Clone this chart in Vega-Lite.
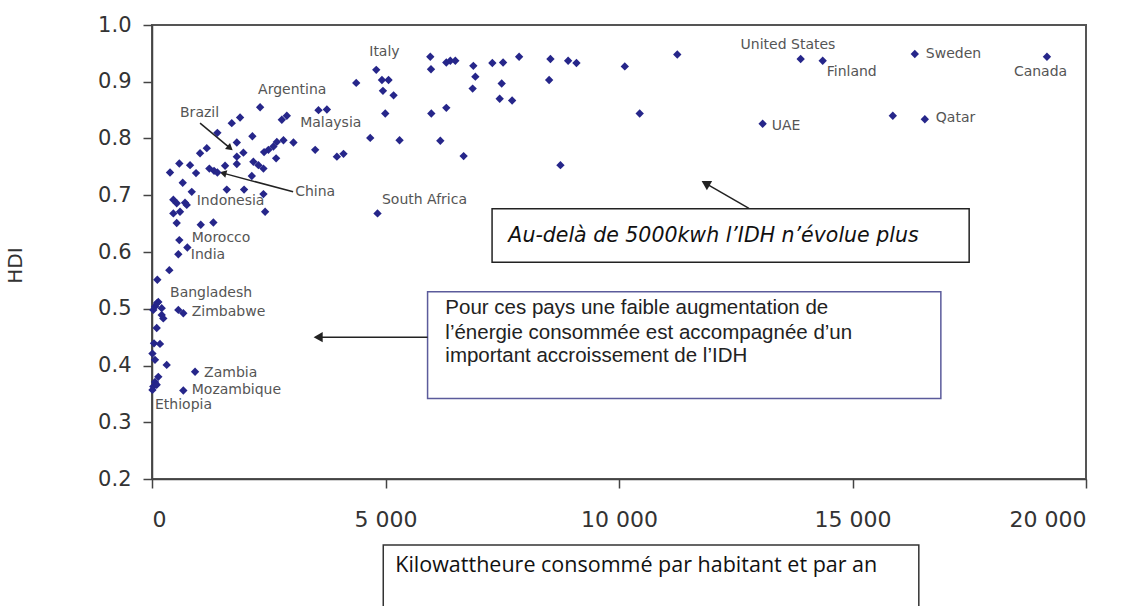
{
  "$schema": "https://vega.github.io/schema/vega-lite/v6.json",
  "autosize": {"type": "none"},
  "padding": {"left": 152, "top": 25, "right": 61, "bottom": 127},
  "width": 934,
  "height": 454,
  "background": "white",
  "config": {
    "view": {"stroke": "#555555", "strokeWidth": 2},
    "axis": {"grid": false}
  },
  "datasets": {
    "pts": [
      {"kwh": 13890, "hdi": 0.940}, {"kwh": 14362, "hdi": 0.937}, {"kwh": 16334, "hdi": 0.949}, {"kwh": 19164, "hdi": 0.944},
      {"kwh": 13076, "hdi": 0.826}, {"kwh": 15863, "hdi": 0.840}, {"kwh": 16549, "hdi": 0.834},
      {"kwh": 5959, "hdi": 0.944}, {"kwh": 4802, "hdi": 0.921}, {"kwh": 6302, "hdi": 0.934}, {"kwh": 6388, "hdi": 0.937},
      {"kwh": 6495, "hdi": 0.937}, {"kwh": 5974, "hdi": 0.922}, {"kwh": 6881, "hdi": 0.928}, {"kwh": 7288, "hdi": 0.933},
      {"kwh": 7518, "hdi": 0.934}, {"kwh": 7861, "hdi": 0.944}, {"kwh": 8532, "hdi": 0.940}, {"kwh": 8911, "hdi": 0.937},
      {"kwh": 9089, "hdi": 0.933}, {"kwh": 10124, "hdi": 0.927}, {"kwh": 11248, "hdi": 0.948}, {"kwh": 4924, "hdi": 0.903},
      {"kwh": 5065, "hdi": 0.903}, {"kwh": 6924, "hdi": 0.909}, {"kwh": 7488, "hdi": 0.897}, {"kwh": 8504, "hdi": 0.903},
      {"kwh": 4945, "hdi": 0.884}, {"kwh": 5173, "hdi": 0.876}, {"kwh": 6866, "hdi": 0.888}, {"kwh": 7445, "hdi": 0.870},
      {"kwh": 7711, "hdi": 0.867}, {"kwh": 4995, "hdi": 0.844}, {"kwh": 5981, "hdi": 0.844}, {"kwh": 6302, "hdi": 0.854},
      {"kwh": 10443, "hdi": 0.844}, {"kwh": 4373, "hdi": 0.898}, {"kwh": 4673, "hdi": 0.801}, {"kwh": 5301, "hdi": 0.797},
      {"kwh": 6174, "hdi": 0.796}, {"kwh": 6673, "hdi": 0.769}, {"kwh": 8746, "hdi": 0.753}, {"kwh": 4829, "hdi": 0.668},
      {"kwh": 2315, "hdi": 0.855}, {"kwh": 3565, "hdi": 0.850}, {"kwh": 3745, "hdi": 0.851}, {"kwh": 1886, "hdi": 0.837},
      {"kwh": 1708, "hdi": 0.827}, {"kwh": 2887, "hdi": 0.840}, {"kwh": 2780, "hdi": 0.833}, {"kwh": 1400, "hdi": 0.810},
      {"kwh": 2150, "hdi": 0.804}, {"kwh": 1816, "hdi": 0.793}, {"kwh": 1173, "hdi": 0.783}, {"kwh": 1029, "hdi": 0.774},
      {"kwh": 2673, "hdi": 0.794}, {"kwh": 2815, "hdi": 0.797}, {"kwh": 3029, "hdi": 0.793}, {"kwh": 2600, "hdi": 0.786},
      {"kwh": 2493, "hdi": 0.780}, {"kwh": 2400, "hdi": 0.776}, {"kwh": 3494, "hdi": 0.780}, {"kwh": 3959, "hdi": 0.768},
      {"kwh": 4101, "hdi": 0.773}, {"kwh": 1957, "hdi": 0.775}, {"kwh": 1816, "hdi": 0.768}, {"kwh": 2658, "hdi": 0.765},
      {"kwh": 585, "hdi": 0.756}, {"kwh": 815, "hdi": 0.753}, {"kwh": 386, "hdi": 0.740}, {"kwh": 943, "hdi": 0.739},
      {"kwh": 1228, "hdi": 0.747}, {"kwh": 1329, "hdi": 0.743}, {"kwh": 1400, "hdi": 0.740}, {"kwh": 1565, "hdi": 0.752},
      {"kwh": 1816, "hdi": 0.755}, {"kwh": 2171, "hdi": 0.759}, {"kwh": 2279, "hdi": 0.753}, {"kwh": 2386, "hdi": 0.747},
      {"kwh": 2137, "hdi": 0.734}, {"kwh": 658, "hdi": 0.722}, {"kwh": 1601, "hdi": 0.710}, {"kwh": 1972, "hdi": 0.710},
      {"kwh": 851, "hdi": 0.706}, {"kwh": 2386, "hdi": 0.702}, {"kwh": 457, "hdi": 0.692}, {"kwh": 529, "hdi": 0.686},
      {"kwh": 707, "hdi": 0.687}, {"kwh": 744, "hdi": 0.683}, {"kwh": 457, "hdi": 0.668}, {"kwh": 600, "hdi": 0.671},
      {"kwh": 2422, "hdi": 0.671}, {"kwh": 529, "hdi": 0.651}, {"kwh": 1044, "hdi": 0.648}, {"kwh": 1314, "hdi": 0.652},
      {"kwh": 585, "hdi": 0.621}, {"kwh": 757, "hdi": 0.608}, {"kwh": 564, "hdi": 0.596}, {"kwh": 371, "hdi": 0.568},
      {"kwh": 114, "hdi": 0.551}, {"kwh": 135, "hdi": 0.512}, {"kwh": 64, "hdi": 0.504}, {"kwh": 208, "hdi": 0.501},
      {"kwh": 208, "hdi": 0.489}, {"kwh": 242, "hdi": 0.483}, {"kwh": 28, "hdi": 0.498}, {"kwh": 107, "hdi": 0.510},
      {"kwh": 564, "hdi": 0.498}, {"kwh": 671, "hdi": 0.492}, {"kwh": 101, "hdi": 0.466}, {"kwh": 43, "hdi": 0.439},
      {"kwh": 171, "hdi": 0.438}, {"kwh": 10, "hdi": 0.421}, {"kwh": 64, "hdi": 0.410}, {"kwh": 315, "hdi": 0.401},
      {"kwh": 922, "hdi": 0.389}, {"kwh": 135, "hdi": 0.380}, {"kwh": 64, "hdi": 0.371}, {"kwh": 28, "hdi": 0.363},
      {"kwh": 101, "hdi": 0.366}, {"kwh": 671, "hdi": 0.356}, {"kwh": 10, "hdi": 0.357}
    ],
    "labels": [
      {"name": "Italy", "kwh": 4652, "hdi": 0.952},
      {"name": "Argentina", "kwh": 2272, "hdi": 0.885},
      {"name": "Brazil", "kwh": 600, "hdi": 0.845},
      {"name": "Malaysia", "kwh": 3173, "hdi": 0.828},
      {"name": "China", "kwh": 3065, "hdi": 0.706},
      {"name": "Indonesia", "kwh": 958, "hdi": 0.689},
      {"name": "South Africa", "kwh": 4924, "hdi": 0.692},
      {"name": "Morocco", "kwh": 851, "hdi": 0.625},
      {"name": "India", "kwh": 830, "hdi": 0.595},
      {"name": "Bangladesh", "kwh": 386, "hdi": 0.527},
      {"name": "Zimbabwe", "kwh": 851, "hdi": 0.494},
      {"name": "Zambia", "kwh": 1115, "hdi": 0.387},
      {"name": "Mozambique", "kwh": 851, "hdi": 0.356},
      {"name": "Ethiopia", "kwh": 64, "hdi": 0.330},
      {"name": "United States", "kwh": 12604, "hdi": 0.965},
      {"name": "Finland", "kwh": 14448, "hdi": 0.917},
      {"name": "Sweden", "kwh": 16570, "hdi": 0.949},
      {"name": "Canada", "kwh": 18456, "hdi": 0.917},
      {"name": "UAE", "kwh": 13269, "hdi": 0.822},
      {"name": "Qatar", "kwh": 16784, "hdi": 0.836}
    ]
  },
  "layer": [
    {
      "data": {"values": [
        {"x1": 7282, "x2": 17498, "y1": 0.676, "y2": 0.582}
      ]},
      "mark": {"type": "rect", "fill": "white", "stroke": "#222222", "strokeWidth": 1.5},
      "encoding": {
        "x": {"field": "x1", "type": "quantitative", "scale": {"domain": [0, 20000], "nice": false},
          "axis": {"values": [0, 5000, 10000, 15000, 20000], "labelExpr": "replace(format(datum.value, ','), ',', ' ')",
            "title": null, "domainColor": "#444444", "domainWidth": 1.5, "tickColor": "#444444", "tickWidth": 1.5, "tickSize": 9,
            "labelFont": "DejaVu Sans", "labelFontSize": 22, "labelColor": "#333333", "labelPadding": 21}},
        "x2": {"field": "x2"},
        "y": {"field": "y1", "type": "quantitative", "scale": {"domain": [0.2, 1.0], "nice": false},
          "axis": {"values": [0.2, 0.3, 0.4, 0.5, 0.6, 0.7, 0.8, 0.9, 1.0], "format": ".1f",
            "title": "HDI", "titleFont": "DejaVu Sans", "titleFontSize": 20, "titleFontWeight": "normal", "titleColor": "#333333",
            "titleX": -137, "titleY": 240, "titleAngle": -90, "titleAlign": "center", "titleBaseline": "middle",
            "domainColor": "#444444", "domainWidth": 1.5, "tickColor": "#444444", "tickWidth": 1.5, "tickSize": 9,
            "labelFont": "DejaVu Sans", "labelFontSize": 21, "labelColor": "#333333", "labelPadding": 12}},
        "y2": {"field": "y2"}
      }
    },
    {
      "data": {"values": [
        {"x1": 5901, "x2": 16892, "y1": 0.530, "y2": 0.342}
      ]},
      "mark": {"type": "rect", "fill": "white", "stroke": "#5b5b9b", "strokeWidth": 1.5},
      "encoding": {
        "x": {"field": "x1", "type": "quantitative"},
        "x2": {"field": "x2"},
        "y": {"field": "y1", "type": "quantitative"},
        "y2": {"field": "y2"}
      }
    },
    {
      "data": {"values": [
        {"x1": 4952, "x2": 16420, "y1": 0.0837, "y2": -0.05}
      ]},
      "mark": {"type": "rect", "fill": "white", "stroke": "#333333", "strokeWidth": 1.5},
      "encoding": {
        "x": {"field": "x1", "type": "quantitative"},
        "x2": {"field": "x2"},
        "y": {"field": "y1", "type": "quantitative"},
        "y2": {"field": "y2"}
      }
    },
    {
      "data": {"values": [
        {"text": "Au-delà de 5000kwh l’IDH n’évolue plus", "kwh": 7631, "hdi": 0.628}
      ]},
      "mark": {"type": "text", "align": "left", "baseline": "middle", "font": "DejaVu Sans", "fontStyle": "italic", "fontSize": 20.5, "color": "#111111"},
      "encoding": {
        "x": {"field": "kwh", "type": "quantitative"},
        "y": {"field": "hdi", "type": "quantitative"},
        "text": {"field": "text"}
      }
    },
    {
      "data": {"values": [
        {"text": "Pour ces pays une  faible augmentation de", "kwh": 6281, "hdi": 0.501},
        {"text": "l’énergie consommée est accompagnée d’un", "kwh": 6281, "hdi": 0.458},
        {"text": "important accroissement de l’IDH", "kwh": 6281, "hdi": 0.417}
      ]},
      "mark": {"type": "text", "align": "left", "baseline": "middle", "font": "Liberation Sans", "fontSize": 20.5, "color": "#222222"},
      "encoding": {
        "x": {"field": "kwh", "type": "quantitative"},
        "y": {"field": "hdi", "type": "quantitative"},
        "text": {"field": "text"}
      }
    },
    {
      "data": {"values": [
        {"text": "Kilowattheure consommé par habitant et par an", "kwh": 5209, "hdi": 0.0467}
      ]},
      "mark": {"type": "text", "align": "left", "baseline": "middle", "font": "Open Sans", "fontSize": 21.5, "color": "#111111"},
      "encoding": {
        "x": {"field": "kwh", "type": "quantitative"},
        "y": {"field": "hdi", "type": "quantitative"},
        "text": {"field": "text"}
      }
    },
    {
      "data": {"values": [
        {"arrow": "Brazil", "x1": 1029, "y1": 0.827, "x2": 1672, "y2": 0.783},
        {"arrow": "China", "x1": 3022, "y1": 0.706, "x2": 1522, "y2": 0.739},
        {"arrow": "plateau", "x1": 12783, "y1": 0.677, "x2": 11854, "y2": 0.721},
        {"arrow": "steep", "x1": 5901, "y1": 0.450, "x2": 3558, "y2": 0.450}
      ]},
      "mark": {"type": "rule", "color": "#222222", "strokeWidth": 1.5},
      "encoding": {
        "x": {"field": "x1", "type": "quantitative"},
        "y": {"field": "y1", "type": "quantitative"},
        "x2": {"field": "x2"},
        "y2": {"field": "y2"}
      }
    },
    {
      "data": {"values": [{"x": 1672, "y": 0.783}]},
      "mark": {"type": "point", "shape": "triangle-up", "filled": true, "color": "#222222", "size": 60, "angle": 130, "opacity": 1},
      "encoding": {"x": {"field": "x", "type": "quantitative"}, "y": {"field": "y", "type": "quantitative"}}
    },
    {
      "data": {"values": [{"x": 1522, "y": 0.739}]},
      "mark": {"type": "point", "shape": "triangle-up", "filled": true, "color": "#222222", "size": 60, "angle": 285, "opacity": 1},
      "encoding": {"x": {"field": "x", "type": "quantitative"}, "y": {"field": "y", "type": "quantitative"}}
    },
    {
      "data": {"values": [{"x": 11854, "y": 0.721}]},
      "mark": {"type": "point", "shape": "triangle-up", "filled": true, "color": "#222222", "size": 110, "angle": 300, "opacity": 1},
      "encoding": {"x": {"field": "x", "type": "quantitative"}, "y": {"field": "y", "type": "quantitative"}}
    },
    {
      "data": {"values": [{"x": 3558, "y": 0.450}]},
      "mark": {"type": "point", "shape": "triangle-up", "filled": true, "color": "#222222", "size": 110, "angle": 270, "opacity": 1},
      "encoding": {"x": {"field": "x", "type": "quantitative"}, "y": {"field": "y", "type": "quantitative"}}
    },
    {
      "data": {"name": "pts"},
      "mark": {"type": "point", "shape": "diamond", "filled": true, "color": "#26268a", "size": 70, "opacity": 1},
      "encoding": {
        "x": {"field": "kwh", "type": "quantitative"},
        "y": {"field": "hdi", "type": "quantitative"}
      }
    },
    {
      "data": {"name": "labels"},
      "mark": {"type": "text", "align": "left", "baseline": "middle", "font": "DejaVu Sans", "fontSize": 14, "color": "#555555"},
      "encoding": {
        "x": {"field": "kwh", "type": "quantitative"},
        "y": {"field": "hdi", "type": "quantitative"},
        "text": {"field": "name"}
      }
    }
  ]
}
